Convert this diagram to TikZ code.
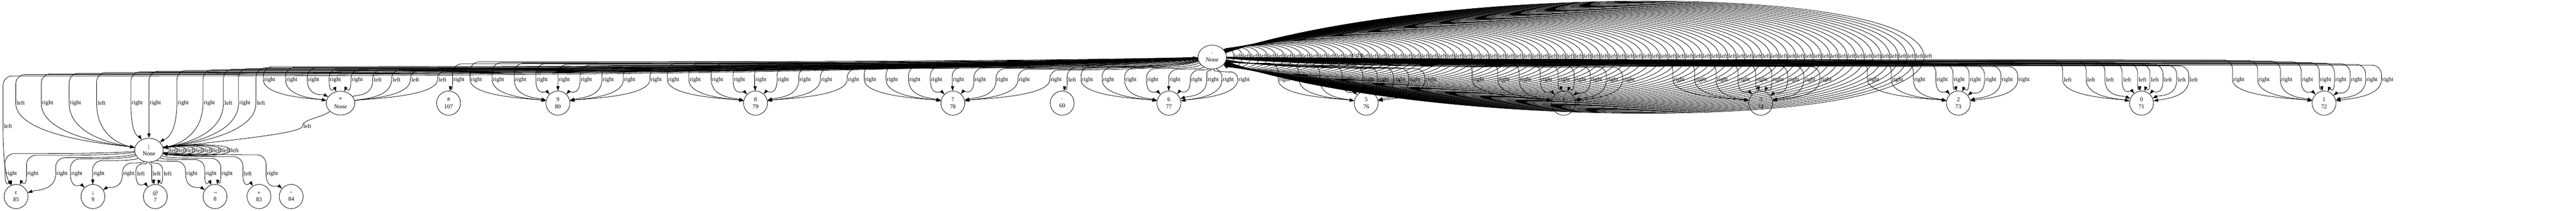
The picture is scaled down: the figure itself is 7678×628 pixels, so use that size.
\documentclass[tikz,border=0pt]{standalone}
\usepackage{fontspec}
\setmainfont{Liberation Serif}
\usetikzlibrary{arrows.meta}
\usetikzlibrary{shapes.geometric}
\tikzset{>={Triangle[length=11pt,width=7.5pt]}}
\tikzstyle{treenode}=[draw=black,line width=1pt,ellipse,inner sep=0pt,minimum width=57pt,minimum height=57.6pt,align=center,font=\fontsize{14}{16.8}\selectfont]
\tikzstyle{nonenode}=[treenode,minimum width=68pt,minimum height=56.8pt]
\tikzstyle{edgeline}=[draw=black,line width=1pt]
\tikzstyle{edgelabel}=[inner sep=0pt,font=\fontsize{14}{16.8}\selectfont]

\def\hwright{19}
\def\hwleft{15}

% #1 tip, #2 source, #3 source x, #4 target, #5 target x, #6 target y, #7 label x, #8 label y, #9 label
\newcommand{\treeedge}[9]{%
  \pgfmathsetmacro\px{#7-\csname hw#9\endcsname}%
  \pgfmathsetmacro\sg{ifthenelse(#3>\px,1,-1)}%
  \pgfmathsetmacro\rr{min(28,abs(\px-#3)/2,#8-\yb-2)}%
  \pgfmathsetmacro\kx{\px+\sg*\rr}%
  \pgfmathsetmacro\ax{#3+0.3*(\kx-#3)}%
  \pgfmathsetmacro\bx{\kx+0.3*(#3-\kx)}%
  \pgfmathsetmacro\cx{\px+\sg*0.448*\rr}%
  \pgfmathsetmacro\cy{\yb+0.448*\rr}%
  \pgfmathsetmacro\ey{\yb+\rr}%
  \pgfmathsetmacro\qy{#8+0.75*(#6-#8)}%
  \pgfmathsetmacro\fx{max(-70,min(70,0.5*(\px-#5)))}%
  \pgfmathsetmacro\tx{#5+\fx}%
  \pgfmathsetmacro\ty{#6-55+0.6*abs(\fx)}%
  \draw[edgeline,#1] (#2) .. controls (\ax,\yb) and (\bx,\yb) .. (\kx,\yb)
    .. controls (\cx,\yb) and (\px,\cy) .. (\px,\ey)
    -- (\px,#8) .. controls (\px,\qy) and (\tx,\ty) .. (#4);
  \node[edgelabel] at (#7,#8) {#9};%
}

\begin{document}
\begin{tikzpicture}[x=0.8pt,y=-0.8pt]
  \useasboundingbox (0,0) rectangle (7678,628);

  % nodes
  \node[nonenode] (root) at (3613,170) {·\\None};
  \node[nonenode] (star) at (1015,307) {*\\None};
  \node[treenode] (hash) at (1337,307) {\#\\107};
  \node[treenode] (n9) at (1663,307) {9\\80};
  \node[treenode] (n8) at (2252,307) {8\\79};
  \node[treenode] (n7) at (2840,307) {7\\78};
  \node[treenode] (dot) at (3166,307) {·\\60};
  \node[treenode] (n6) at (3484,307) {6\\77};
  \node[treenode] (n5) at (4072,307) {5\\76};
  \node[treenode] (n4) at (4660,307) {4\\75};
  \node[treenode] (n3) at (5248,307) {3\\74};
  \node[treenode] (n2) at (5837,307) {2\\73};
  \node[treenode] (n0) at (6383,307) {0\\71};
  \node[treenode] (n1) at (6927,307) {1\\72};
  \node[nonenode] (bar) at (444,447) {|\\None};
  \node[treenode] (eps) at (48,585) {ε\\85};
  \node[treenode] (down) at (277,585) {↓\\9};
  \node[treenode] (at) at (463,585) {@\\7};
  \node[treenode] (arr) at (641,585) {→\\8};
  \node[treenode] (plus) at (772,585) {+\\83};
  \node[treenode] (minus) at (868,585) {-\\84};

  % loops on the root
  \foreach \i in {0,...,81} {
    \pgfmathsetmacro\lx{3690+25.4*\i}
    \pgfmathsetmacro\rx{\lx-13}
    \pgfmathsetmacro\hh{30+190*\i/81}
    \pgfmathsetmacro\ax{3650+0.3*(\rx-3650)}
    \draw[edgeline,->] (root) .. controls (\ax,170-\hh) and (\rx,170-\hh) .. (\rx,170)
      .. controls (\rx,170+\hh) and (\ax,170+\hh) .. (root);
    \node[edgelabel] at (\lx,166) {\ifnum\i=14 right\else left\fi};
  }

  % loops on the bar node
  \foreach \i in {0,...,7} {
    \pgfmathsetmacro\lx{518+26*\i}
    \pgfmathsetmacro\rx{\lx-13}
    \pgfmathsetmacro\hh{10+10*\i/7}
    \pgfmathsetmacro\ax{480+0.3*(\rx-480)}
    \draw[edgeline,->] (bar) .. controls (\ax,447-\hh) and (\rx,447-\hh) .. (\rx,447)
      .. controls (\rx,447+\hh) and (\ax,447+\hh) .. (bar);
    \node[edgelabel] at (\lx,447) {left};
  }

  % root to the second row
  \foreach \lx [count=\k] in {804,870,935,1000,1065} {
    \pgfmathsetmacro\yb{196+2*\k}
    \treeedge{->}{root}{3613}{star}{1015}{307}{\lx}{237}{right}
  }
  \foreach \lx [count=\k] in {1126,1182,1238,1319} {
    \pgfmathsetmacro\yb{204+2*\k}
    \treeedge{<-}{root}{3613}{star}{1015}{307}{\lx}{237}{left}
  }
  \def\yb{190}
  \treeedge{->}{root}{3613}{hash}{1337}{307}{1368}{237}{right}
  \foreach \lx [count=\k] in {1420,1486,1552,1616,1682,1748,1813,1877,1956} {
    \pgfmathsetmacro\yb{182+2*\k}
    \treeedge{->}{root}{3613}{n9}{1663}{307}{\lx}{237}{right}
  }
  \foreach \lx [count=\k] in {2008,2072,2139,2204,2268,2335,2400,2464,2544} {
    \pgfmathsetmacro\yb{186+2*\k}
    \treeedge{->}{root}{3613}{n8}{2252}{307}{\lx}{237}{right}
  }
  \foreach \lx [count=\k] in {2595,2660,2727,2792,2857,2922,2988,3053,3148} {
    \pgfmathsetmacro\yb{190+2*\k}
    \treeedge{->}{root}{3613}{n7}{2840}{307}{\lx}{237}{right}
  }
  \def\yb{200}
  \treeedge{->}{root}{3613}{dot}{3166}{307}{3196}{237}{left}
  \foreach \lx [count=\k] in {3241,3304,3371,3436,3502,3567,3616,3661,3708} {
    \pgfmathsetmacro\yb{196+2*\k}
    \treeedge{->}{root}{3613}{n6}{3484}{307}{\lx}{237}{right}
  }
  \foreach \lx [count=\k] in {3829,3891,3953,4019,4081,4124,4172,4218,4266} {
    \pgfmathsetmacro\yb{186+2*\k}
    \treeedge{->}{root}{3613}{n5}{4072}{307}{\lx}{237}{right}
  }
  \foreach \lx [count=\k] in {4407,4483,4547,4610,4663,4711,4759,4807,4855} {
    \pgfmathsetmacro\yb{182+2*\k}
    \treeedge{->}{root}{3613}{n4}{4660}{307}{\lx}{237}{right}
  }
  \foreach \lx [count=\k] in {5005,5070,5134,5199,5252,5300,5347,5395,5443} {
    \pgfmathsetmacro\yb{180+2*\k}
    \treeedge{->}{root}{3613}{n3}{5248}{307}{\lx}{237}{right}
  }
  \foreach \lx [count=\k] in {5585,5656,5722,5789,5840,5888,5934,5983,6033} {
    \pgfmathsetmacro\yb{180+2*\k}
    \treeedge{->}{root}{3613}{n2}{5837}{307}{\lx}{237}{right}
  }
  \foreach \lx [count=\k] in {6163,6233,6289,6340,6386,6423,6462,6503,6539} {
    \pgfmathsetmacro\yb{178+2*\k}
    \treeedge{->}{root}{3613}{n0}{6383}{307}{\lx}{237}{left}
  }
  \foreach \lx [count=\k] in {6673,6748,6816,6878,6932,6977,7024,7070,7117} {
    \pgfmathsetmacro\yb{176+2*\k}
    \treeedge{->}{root}{3613}{n1}{6927}{307}{\lx}{237}{right}
  }

  % root and star to the bar node
  \foreach \lx/\lab [count=\k] in {62/left,142/right,225/right,303/left,409/right,463/right,546/right,624/right,681/left,730/right,778/left} {
    \pgfmathsetmacro\yb{224-2*\k}
    \treeedge{->}{root}{3613}{bar}{444}{447}{\lx}{307}{\lab}
  }
  \def\yb{226}
  \treeedge{->}{root}{3613}{eps}{48}{585}{24}{376}{left}
  \draw[edgeline,->] (star) .. controls (960,350) and (901,355) .. (901,376)
    .. controls (901,400) and (600,425) .. (bar);
  \node[edgelabel] at (916,376) {left};

  % bar node to the last row
  \foreach \lx/\lab/\t/\tx in {34/right/eps/48,98/right/eps/48,185/right/eps/48,
      229/right/down/277,295/right/down/277,384/right/down/277,
      420/left/at/463,467/left/at/463,500/left/at/463,
      572/right/arr/641,629/right/arr/641,677/right/arr/641,
      739/left/plus/772,812/right/minus/868} {
    \pgfmathsetmacro\yb{max(455,490-0.08*abs(\lx-444))}
    \treeedge{->}{bar}{444}{\t}{\tx}{585}{\lx}{517}{\lab}
  }
\end{tikzpicture}
\end{document}
